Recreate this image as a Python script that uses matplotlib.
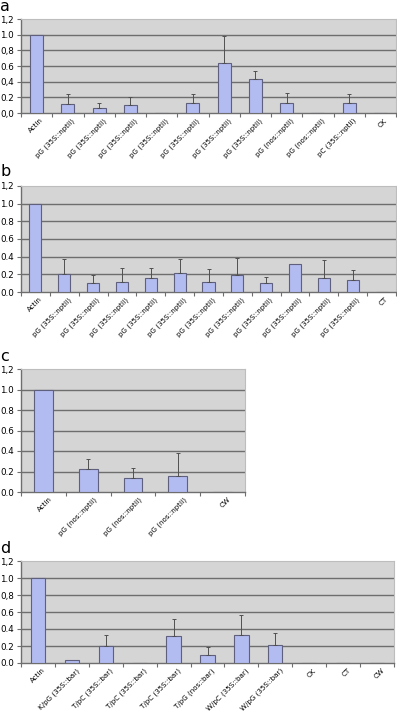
import matplotlib
matplotlib.use("Agg")
import matplotlib.pyplot as plt
import numpy as np

# ---------------- data ----------------
cats_a = ["Actin", "pG (35S::nptII)", "pG (35S::nptII)", "pG (35S::nptII)", "pG (35S::nptII)",
          "pG (35S::nptII)", "pG (35S::nptII)", "pG (35S::nptII)", "pG (nos::nptII)",
          "pG (nos::nptII)", "pC (35S::nptII)", "CK"]
vals_a = [1.0, 0.12, 0.068, 0.107, 0.0, 0.128, 0.632, 0.43, 0.13, 0.0, 0.124, 0.0]
errs_a = [0.0, 0.12, 0.062, 0.098, 0.0, 0.12, 0.348, 0.10, 0.13, 0.0, 0.116, 0.0]
yt_a = ["0,0", "0.2", "0,4", "0.6", "0,8", "1.0", "1,2"]

cats_b = ["Actin"] + ["pG (35S::nptII)"] * 11 + ["CT"]
vals_b = [1.0, 0.208, 0.106, 0.113, 0.162, 0.219, 0.11, 0.196, 0.106, 0.32, 0.155, 0.136, 0.0]
errs_b = [0.0, 0.169, 0.084, 0.157, 0.113, 0.158, 0.15, 0.189, 0.068, 0.0, 0.211, 0.117, 0.0]
yt_b = ["0.0", "0.2", "0.4", "0.6", "0.8", "1.0", "1,2"]

cats_c = ["Actin", "pG (nos::nptII)", "pG (nos::nptII)", "pG (nos::nptII)", "CW"]
vals_c = [1.0, 0.22, 0.136, 0.16, 0.0]
errs_c = [0.0, 0.10, 0.098, 0.217, 0.0]
yt_c = ["0.0", "0.2", "0.4", "0.6", "0.8", "1.0", "1,2"]

cats_d = ["Actin", "K/pG (35S::bar)", "T/pC (35S::bar)", "T/pC (35S::bar)", "T/pC (35S::bar)",
          "T/pG (nos::bar)", "W/pC (35S::bar)", "W/pG (35S::bar)", "CK", "CT", "CW"]
vals_d = [1.0, 0.04, 0.197, 0.0, 0.32, 0.094, 0.33, 0.213, 0.0, 0.0, 0.0]
errs_d = [0.0, 0.0, 0.138, 0.0, 0.20, 0.096, 0.237, 0.145, 0.0, 0.0, 0.0]
yt_d = ["0.0", "0.2", "0.4", "0.6", "0,8", "1.0", "1,2"]

panel_letters = ["a", "b", "c", "d"]
yticks = [0.0, 0.2, 0.4, 0.6, 0.8, 1.0, 1.2]

# ---------------- layout ----------------
W, H = 397, 713
fig = plt.figure(figsize=(W / 100, H / 100), dpi=100)
fig.patch.set_facecolor("white")

def rect(x0, y0, x1, y1):
    return [x0 / W, 1 - y1 / H, (x1 - x0) / W, (y1 - y0) / H]

rects = [rect(21, 19, 396, 113), rect(21, 186, 396, 292),
         rect(21, 369, 245, 492), rect(21, 561, 394, 663)]
letter_pos = [(0, 11), (0, 176.5), (0, 361), (0, 553)]

BG = "#d5d5d5"
GRID = "#6e6e6e"
BAR = "#b3bcf0"
EDGE = "#5e607e"
ERR = "#505050"

panels = [(cats_a, vals_a, errs_a, yt_a), (cats_b, vals_b, errs_b, yt_b),
          (cats_c, vals_c, errs_c, yt_c), (cats_d, vals_d, errs_d, yt_d)]

for (cats, vals, errs, ytl), r, let, lp in zip(panels, rects, panel_letters, letter_pos):
    ax = fig.add_axes(r)
    ax.set_facecolor(BG)
    n = len(cats)
    x = np.arange(n)
    v = np.array(vals)
    e = np.array(errs)
    ax.bar(x, v, width=0.42, color=BAR, edgecolor=EDGE, linewidth=0.8, zorder=3)
    m = e > 0
    ax.errorbar(x[m], v[m], yerr=[np.zeros(m.sum()), e[m]], fmt="none",
                ecolor=ERR, elinewidth=0.7, capsize=1.5, capthick=0.7, zorder=4)
    ax.set_xlim(-0.5, n - 0.5)
    ax.set_ylim(0, 1.2)
    ax.set_yticks(yticks)
    ax.set_yticklabels(ytl, fontsize=6.3)
    for yv in yticks[1:-1]:
        ax.axhline(yv, color=GRID, linewidth=1.0, zorder=1)
    ax.set_xticks(x + 0.12)
    ax.set_xticklabels(cats, rotation=45, ha="right", rotation_mode="anchor", fontsize=5.1)
    ax.tick_params(axis="x", length=0, pad=3)
    ax.set_xticks(np.arange(n + 1) - 0.5, minor=True)
    ax.tick_params(axis="x", which="minor", length=3, width=0.8, color=GRID)
    ax.tick_params(axis="y", length=3, width=0.8, color=GRID, pad=2)
    for s in ["top", "right"]:
        ax.spines[s].set_color("#bdbdbd")
        ax.spines[s].set_linewidth(0.8)
    for s in ["left", "bottom"]:
        ax.spines[s].set_color(GRID)
        ax.spines[s].set_linewidth(1.0)
    fig.text(lp[0] / W, 1 - lp[1] / H, let, fontsize=11.5, va="baseline", ha="left")

fig.savefig("out.png", dpi=100, facecolor="white")
